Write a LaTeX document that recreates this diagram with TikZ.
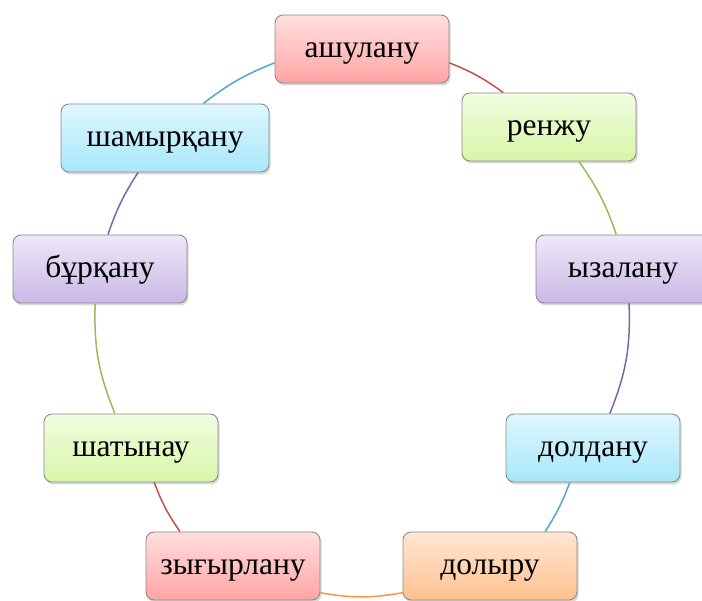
\documentclass[tikz,border=0pt]{standalone}
\usepackage{fontspec}
\setmainfont{Liberation Serif}
\usepackage{xcolor}
\usetikzlibrary{shadows}

\definecolor{redtop}{HTML}{FFDEDE}
\definecolor{redbot}{HTML}{FFA4A4}
\definecolor{greentop}{HTML}{F2FDE2}
\definecolor{greenbot}{HTML}{D6F6A6}
\definecolor{purpletop}{HTML}{EEE8F7}
\definecolor{purplebot}{HTML}{CAB9E6}
\definecolor{bluetop}{HTML}{DFF7FE}
\definecolor{bluebot}{HTML}{A7E7FA}
\definecolor{orangetop}{HTML}{FFE6D4}
\definecolor{orangebot}{HTML}{FFC190}
\definecolor{redline}{HTML}{C0504D}
\definecolor{greenline}{HTML}{9BBB59}
\definecolor{purpleline}{HTML}{8064A2}
\definecolor{blueline}{HTML}{4BACC6}
\definecolor{orangeline}{HTML}{F79646}
\definecolor{boxgray}{HTML}{8A8A8A}

\begin{document}
\begin{tikzpicture}[x=1pt, y=-1pt,
    word/.style={draw=boxgray, line width=0.9pt, rounded corners=8pt, minimum width=174pt, minimum height=68pt,
        text height=17pt, text depth=0pt, font=\fontsize{31.5}{36}\selectfont,
        drop shadow={shadow xshift=1.5pt, shadow yshift=-2.5pt, opacity=0.3}},
    redbox/.style={word, top color=redtop, bottom color=redbot},
    greenbox/.style={word, top color=greentop, bottom color=greenbot},
    purplebox/.style={word, top color=purpletop, bottom color=purplebot},
    bluebox/.style={word, top color=bluetop, bottom color=bluebot},
    orangebox/.style={word, top color=orangetop, bottom color=orangebot},
    arc/.style={line width=1.5pt}]
    \useasboundingbox (0,0) rectangle (702,601);

    % Words
    \node[redbox] (ashulanu) at (362,49) {ашулану};
    \node[greenbox] (renzhu) at (549,127) {ренжу};
    \node[purplebox] (yzalanu) at (623,269) {ызалану};
    \node[bluebox] (doldanu) at (593,448) {долдану};
    \node[orangebox] (dolyru) at (490,566) {долыру};
    \node[redbox] (zygyrlanu) at (233,566) {зығырлану};
    \node[greenbox] (shatynau) at (131,448) {шатынау};
    \node[purplebox] (burqanu) at (100,269) {бұрқану};
    \node[bluebox, minimum width=208pt] (shamyrqanu) at (165,138) {шамырқану};

    % Arcs
    \draw[arc, redline] (ashulanu.-9) to[bend left=7] (renzhu.143);
    \draw[arc, greenline] (renzhu.-49) to[bend left=8] (yzalanu.101);
    \draw[arc, purpleline] (yzalanu.-80) to[bend left=12] (doldanu.64);
    \draw[arc, blueline] (doldanu.-124) to[bend left=6] (dolyru.32);
    \draw[arc, orangeline] (dolyru.197) to[bend left=10] (zygyrlanu.-17);
    \draw[arc, redline] (zygyrlanu.147) to[bend left=7] (shatynau.-56);
    \draw[arc, greenline] (shatynau.115) to[bend left=12] (burqanu.-98);
    \draw[arc, purpleline] (burqanu.77) to[bend left=7] (shamyrqanu.232);
    \draw[arc, blueline] (shamyrqanu.42) to[bend left=8] (ashulanu.189);
\end{tikzpicture}
\end{document}
